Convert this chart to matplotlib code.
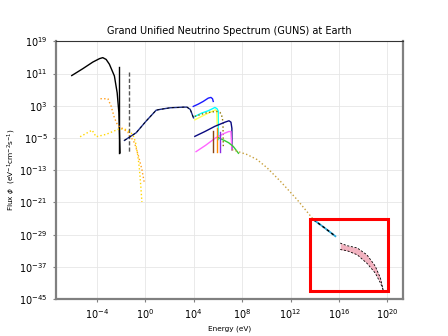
import numpy as np
import matplotlib
matplotlib.use("Agg")
import matplotlib.pyplot as plt
from matplotlib.patches import Rectangle

# ---- data (log10 energy [eV], log10 flux) ----
cnb_logE = [-6.06, -5.15, -4.32, -3.77, -3.5, -3.22, -2.95, -2.54, -2.31, -2.17, -2.12, -2.07]
cnb_logF = [10.5, 12.2, 13.85, 14.7, 14.95, 14.5, 13.3, 10.4, 6.2, 1.3, -3.7, -8.7]

mass1_logE = [-2.12, -2.12]
mass1_logF = [12.7, -8.7]
mass2_logE = [-1.35, -1.35]
mass2_logF = [11.4, -8.7]

bbn_logE = [-5.37, -4.38, -4.05, -3.22, -2.12, -1.57, -1.02, -0.8, -0.6, -0.47, -0.36, -0.27]
bbn_logF = [-4.7, -3.06, -4.7, -4.1, -2.7, -2.9, -4.1, -6.0, -9.5, -12.8, -17.0, -20.9]

th_logE = [-3.69, -3.08, -2.81, -2.54, -2.26, -1.84, -1.43, -0.88, -0.55, -0.27, -0.06]
th_logF = [4.75, 4.75, 2.9, 0.0, -1.9, -2.7, -3.55, -6.2, -9.5, -12.8, -16.3]

sun_logE = [-1.71, -0.74, 0.08, 0.91, 1.24, 2.07, 3.17, 3.45, 3.72, 3.99]
sun_logF = [-5.6, -3.7, -0.8, 1.9, 2.1, 2.5, 2.66, 2.66, 2.1, 0.0]

pp_logE = [3.97, 4.38, 4.79, 5.21, 5.43, 5.56, 5.62]
pp_logF = [2.83, 3.4, 4.07, 4.9, 5.07, 4.74, 4.07]

cyan_logE = [4.1, 4.65, 5.21, 5.76, 5.93, 6.03, 6.03]
cyan_logF = [0.35, 1.16, 1.76, 2.58, 2.26, 1.7, -5.4]

yel_logE = [4.1, 4.65, 5.21, 5.81, 5.9, 5.95]
yel_logF = [-0.5, 0.35, 1.16, 2.0, 1.6, -2.0]

gold_logE = [4.1, 4.65, 5.21, 5.9, 6.17, 6.3, 6.42, 6.45]
gold_logF = [0.35, 0.9, 1.34, 1.6, 1.34, 0.8, -0.9, -7.1]

navy2_logE = [4.1, 4.93, 5.76, 6.59, 6.92, 7.08, 7.16, 7.16]
navy2_logF = [-4.6, -3.4, -2.1, -1.07, -0.73, -1.07, -2.6, -7.9]

mag_logE = [4.2, 5.0, 5.8, 6.5, 6.9, 7.08, 7.16]
mag_logF = [-8.4, -6.8, -5.0, -3.9, -3.4, -3.4, -7.9]

green_logE = [6.03, 6.3, 6.59, 6.9, 7.27, 7.5, 7.7]
green_logF = [-4.9, -5.3, -5.7, -6.2, -7.1, -8.0, -8.8]

lines_logE = [5.62, 5.9, 6.2]
lines_top = [-3.2, -2.4, -3.6]
lines_bottom = -8.5
lines_colors = ["#8B4513", "#FF8C00", "#8A2BE2"]

dsnb_logE = [7.17, 7.58, 8.4, 9.23, 10.06, 11.16, 12.54, 13.9]
dsnb_logF = [-7.9, -8.3, -9.1, -10.35, -12.4, -15.75, -20.3, -25.3]

ic_logE = [13.9, 14.8, 15.7]
ic_logF = [-25.3, -27.3, -29.4]

cosmo_logE = [16.1, 16.67, 17.5, 18.3, 18.87, 19.0, 19.42, 19.64]
cosmo_hi = [-31.1, -31.75, -32.3, -34.0, -36.3, -36.9, -39.8, -42.7]
cosmo_lo = [-32.7, -33.0, -34.0, -36.1, -38.1, -38.6, -41.0, -42.7]

box_logE = [13.58, 20.02]
box_logF = [-42.9, -25.0]

yticks_exp = [-45, -37, -29, -21, -13, -5, 3, 11, 19]
xticks_exp = [-4, 0, 4, 8, 12, 16, 20]

def P(a):
    return np.power(10.0, np.asarray(a, dtype=float))

fig = plt.figure(figsize=(4.48, 3.36), dpi=100)
ax = fig.add_subplot(111)
ax.set_xscale("log")
ax.set_yscale("log")

lw = 1.0
ax.plot(P(cnb_logE), P(cnb_logF), color="k", lw=lw)
ax.plot(P(mass1_logE), P(mass1_logF), color="k", lw=lw)
ax.plot(P(mass2_logE), P(mass2_logF), color="#555555", lw=lw, ls="--", dashes=(3, 1.5))
ax.plot(P(bbn_logE), P(bbn_logF), color="#FFD700", lw=lw, ls=":")
ax.plot(P(th_logE), P(th_logF), color="#FF9F1C", lw=lw, ls=":")
ax.plot(P(sun_logE), P(sun_logF), color="#1f2f8f", lw=lw)
ax.plot(P(sun_logE), P(sun_logF), color="k", lw=0.6, ls="--", dashes=(3, 3))
ax.plot(P(pp_logE), P(pp_logF), color="#1a1aff", lw=lw)
ax.plot(P(cyan_logE), P(cyan_logF), color="#00FFFF", lw=lw)
ax.plot(P(yel_logE), P(yel_logF), color="#FFFF55", lw=lw)
ax.plot(P(gold_logE), P(gold_logF), color="#8B7500", lw=lw, ls=":")
ax.plot(P(navy2_logE), P(navy2_logF), color="#0a0a80", lw=lw)
ax.plot(P(mag_logE), P(mag_logF), color="#FF66FF", lw=lw)
ax.plot(P(green_logE), P(green_logF), color="#33CC33", lw=lw)
for e, t, c in zip(lines_logE, lines_top, lines_colors):
    ax.plot(P([e, e]), P([t, lines_bottom]), color=c, lw=lw)
ax.plot(P(dsnb_logE), P(dsnb_logF), color="#C8A03C", lw=lw, ls=":")
ax.plot(P(ic_logE), P(ic_logF), color="#2aa7d8", lw=1.3)
ax.plot(P(ic_logE), P(ic_logF), color="k", lw=1.0, ls="--", dashes=(2, 2))
ax.fill_between(P(cosmo_logE), P(cosmo_lo), P(cosmo_hi), color="#F2B3C0", lw=0)
ax.plot(P(cosmo_logE), P(cosmo_hi), color="k", lw=0.6, ls="--", dashes=(2.5, 2))
ax.plot(P(cosmo_logE), P(cosmo_lo), color="k", lw=0.6, ls="--", dashes=(2.5, 2))

x0, x1 = P(box_logE)
y0, y1 = P(box_logF)
ax.add_patch(Rectangle((x0, y0), x1 - x0, y1 - y0, fill=False, edgecolor="red", lw=2.2, zorder=5))

ax.set_xlim(10 ** -7.36, 10 ** 21.3)
ax.set_ylim(1e-45, 1e19)
ax.set_xticks([10.0 ** e for e in xticks_exp])
ax.set_yticks([10.0 ** e for e in yticks_exp])
ax.xaxis.set_minor_locator(matplotlib.ticker.NullLocator())
ax.yaxis.set_minor_locator(matplotlib.ticker.NullLocator())
ax.tick_params(labelsize=7, color="#808080", length=2.5, width=0.8)
ax.grid(True, color="#e6e6e6", lw=0.6)
ax.set_axisbelow(True)

for s in ["left", "bottom", "right"]:
    ax.spines[s].set_color("#808080")
    ax.spines[s].set_linewidth(1.6)
ax.spines["top"].set_color("#333333")
ax.spines["top"].set_linewidth(0.8)

ax.set_title("Grand Unified Neutrino Spectrum (GUNS) at Earth", fontsize=7, pad=5)
ax.set_xlabel("Energy (eV)", fontsize=5.3, labelpad=3)
ax.set_ylabel(r"Flux $\phi$  (eV$^{-1}$cm$^{-2}$s$^{-1}$)", fontsize=5.3, labelpad=1)

fig.subplots_adjust(left=0.125, right=0.9, bottom=0.11, top=0.877)
fig.savefig("out.png", dpi=100)
